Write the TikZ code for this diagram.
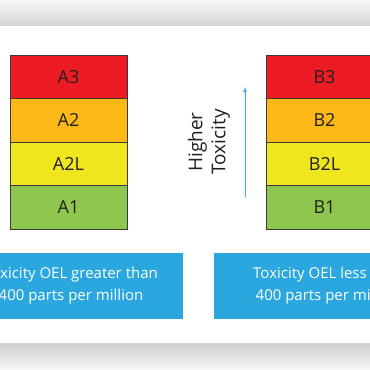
\documentclass[tikz,border=0pt]{standalone}
\usepackage{fontspec}
\setmainfont{Open Sans}
\usetikzlibrary{positioning}

\definecolor{tierred}{HTML}{ED1C24}
\definecolor{tierorange}{HTML}{FCB815}
\definecolor{tieryellow}{HTML}{F0E61E}
\definecolor{tiergreen}{HTML}{8EC74D}
\definecolor{tierline}{HTML}{3A3A3A}
\definecolor{tiertext}{HTML}{231F20}
\definecolor{oelblue}{HTML}{2AA7DF}
\definecolor{arrowblue}{HTML}{3FA9DA}

\begin{document}
\begin{tikzpicture}[
    x=1pt, y=-1pt,
    node distance={43.5pt},
    tier/.style = {draw=tierline, line width=0.8pt, minimum width=117pt, minimum height=43.5pt,
                   inner sep=0pt, text=tiertext, font=\fontsize{18}{18}\selectfont},
    oelbox/.style = {fill=oelblue, minimum width=224pt, minimum height=66pt, inner sep=0pt,
                     align=center, text=white, font=\fontsize{15}{22}\selectfont}
]

    \useasboundingbox (0,0) rectangle (370,370);
    \clip (0,0) rectangle (370,370);

    % Fond et ombres (panel)
    \fill[white] (0,0) rectangle (370,370);
    \shade[top color=gray!6, bottom color=gray!32] (0,0) rectangle (370,25);
    \shade[top color=gray!38, bottom color=gray!5] (0,343) rectangle (370,370);

    % Classes A
    \node[tier, fill=tierred] (A3) at (68.5,76.75) {A3};
    \node[tier, fill=tierorange] (A2) [below of=A3] {A2};
    \node[tier, fill=tieryellow] (A2L) [below of=A2] {A2L};
    \node[tier, fill=tiergreen] (A1) [below of=A2L] {A1};

    % Classes B
    \node[tier, fill=tierred] (B3) at (324.5,76.75) {B3};
    \node[tier, fill=tierorange] (B2) [below of=B3] {B2};
    \node[tier, fill=tieryellow] (B2L) [below of=B2] {B2L};
    \node[tier, fill=tiergreen] (B1) [below of=B2L] {B1};

    % Flèche de toxicité
    \coordinate (arrbot) at (245,197);
    \coordinate (arrtop) at (245,87);
    \draw[arrowblue, line width=0.8pt, -latex] (arrbot) -- (arrtop);
    \node[rotate=90, align=center, text=tiertext, font=\fontsize{19}{23}\selectfont] (higher) at (209,142) {Higher\\Toxicity};

    % Cadres OEL
    \node[oelbox] (oelA) at (71,286) {Toxicity OEL greater than\\400 parts per million};
    \node[oelbox, minimum width=228pt] (oelB) at (328,286) {Toxicity OEL less than\\400 parts per million};

\end{tikzpicture}
\end{document}
